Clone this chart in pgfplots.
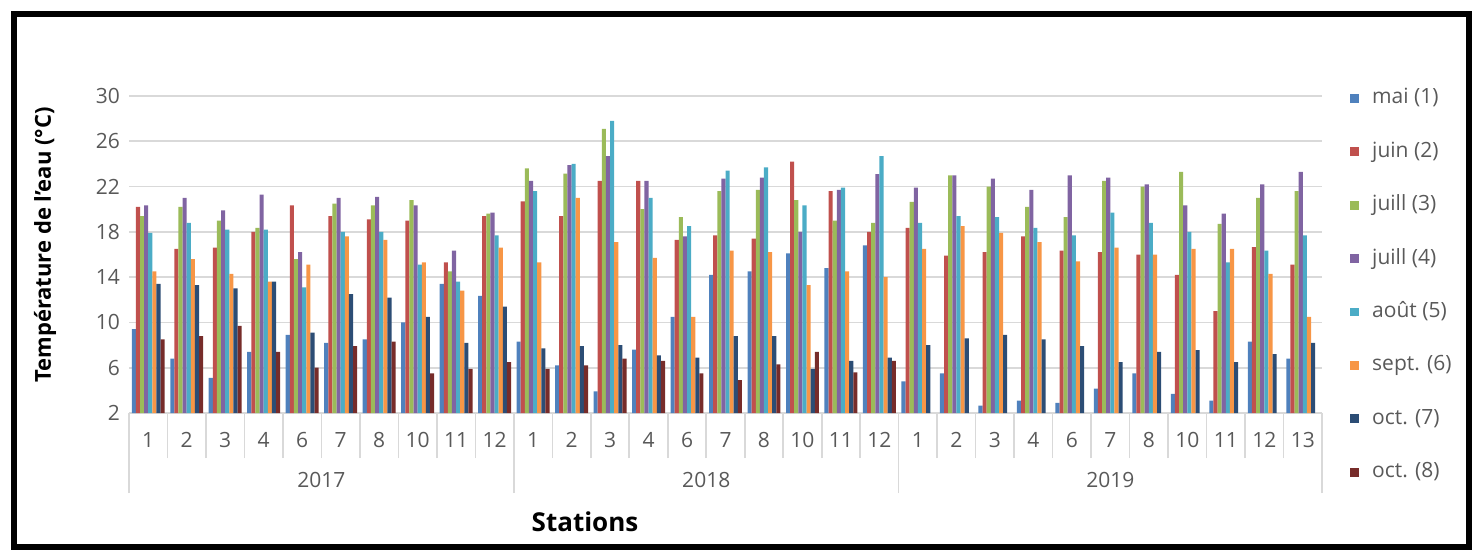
\documentclass[border=0pt]{standalone}
\usepackage{fontspec}
\setmainfont{Open Sans}
\usepackage{pgfplots}
\usepackage{pgfplotstable}
\pgfplotsset{compat=1.18}
\definecolor{c1}{HTML}{4F81BD}
\definecolor{c2}{HTML}{C0504D}
\definecolor{c3}{HTML}{9BBB59}
\definecolor{c4}{HTML}{8064A2}
\definecolor{c5}{HTML}{4BACC6}
\definecolor{c6}{HTML}{F79646}
\definecolor{c7}{HTML}{2C4D75}
\definecolor{c8}{HTML}{772C2A}
\definecolor{gridc}{HTML}{D9D9D9}
\definecolor{tickc}{HTML}{595959}

\pgfplotstableread{
x s1 s2 s3 s4 s5 s6 s7
0 9.4 20.2 19.4 20.35 17.9 14.5 13.4
1 6.8 16.5 20.2 21.0 18.8 15.6 13.3
2 5.1 16.6 19.0 19.9 18.2 14.3 13.0
3 7.4 18.0 18.35 21.3 18.2 13.6 13.6
4 8.9 20.35 15.6 16.2 13.1 15.1 9.1
5 8.2 19.4 20.5 21.0 18.0 17.6 12.5
6 8.5 19.1 20.35 21.1 18.0 17.3 12.2
7 10.0 19.0 20.8 20.35 15.1 15.3 10.5
8 13.4 15.3 14.5 16.35 13.6 12.8 8.2
9 12.35 19.4 19.6 19.7 17.7 16.6 11.4
10 8.3 20.7 23.6 22.5 21.6 15.3 7.7
11 6.2 19.4 23.15 23.9 24.0 21.0 7.9
12 3.9 22.5 27.1 24.7 27.8 17.1 8.0
13 7.6 22.5 20.0 22.5 21.0 15.7 7.1
14 10.5 17.3 19.3 17.6 18.5 10.5 6.9
15 14.2 17.7 21.6 22.7 23.4 16.35 8.8
16 14.5 17.4 21.7 22.8 23.7 16.2 8.8
17 16.1 24.2 20.8 18.0 20.35 13.3 5.9
18 14.8 21.6 19.0 21.7 21.9 14.5 6.6
19 16.8 18.0 18.8 23.1 24.7 14.0 6.9
20 4.8 18.35 20.65 21.9 18.8 16.5 8.0
21 5.5 15.9 23.0 23.0 19.4 18.5 8.6
22 2.65 16.2 22.0 22.7 19.3 17.9 8.9
23 3.1 17.6 20.2 21.7 18.35 17.1 8.5
24 2.9 16.35 19.3 23.0 17.7 15.4 7.9
25 4.15 16.2 22.5 22.8 19.7 16.6 6.5
26 5.5 16.0 22.0 22.2 18.8 16.0 7.4
27 3.7 14.2 23.3 20.35 18.0 16.5 7.55
28 3.1 11.0 18.7 19.6 15.3 16.5 6.5
29 8.3 16.65 21.0 22.2 16.35 14.3 7.2
30 6.8 15.1 21.6 23.3 17.7 10.5 8.2
}\dataA

\pgfplotstableread{
x s8
0 8.5
1 8.8
2 9.7
3 7.4
4 6.0
5 7.9
6 8.3
7 5.5
8 5.9
9 6.5
10 5.9
11 6.2
12 6.8
13 6.6
14 5.5
15 4.9
16 6.3
17 7.4
18 5.6
19 6.6
}\dataB

\pgfplotsset{
  bstyle/.style 2 args={fill=#1, draw=none, bar shift=#2,
    legend image code/.code={\fill[fill=#1] (0pt,-2.2pt) rectangle (4.4pt,2.2pt);}},
}

\begin{document}
\begin{tikzpicture}[x=1pt,y=1pt]
\useasboundingbox (0,0) rectangle (738.5,277);
\draw[line width=3pt] (7,3.5) rectangle (734.5,270);
\begin{axis}[
  at={(64.5pt,70.5pt)}, anchor=south west,
  scale only axis, width=596.5pt, height=158.5pt,
  xmin=-0.5, xmax=30.5, ymin=2, ymax=30,
  ybar=0pt, bar width=0.107,
  axis lines=left,
  axis line style={-},
  y axis line style={draw=none},
  x axis line style={draw=gridc, line width=0.8pt},
  ytick={2,6,...,30},
  xtick={0,...,30},
  xticklabels={1,2,3,4,6,7,8,10,11,12,1,2,3,4,6,7,8,10,11,12,1,2,3,4,6,7,8,10,11,12,13},
  minor xtick={0.5,1.5,...,29.5},
  minor tick length=22.5pt,
  major tick length=0pt,
  tick align=outside,
  minor tick style={draw=gridc, line width=0.8pt},
  extra x ticks={-0.5,9.5,19.5,30.5},
  extra x tick labels={},
  extra x tick style={major tick length=40pt, tick style={draw=gridc, line width=0.8pt}},
  ymajorgrids,
  grid style={draw=gridc, line width=0.8pt},
  /pgf/number format/assume math mode=true,
  tick label style={font=\fontsize{10.5}{12}\selectfont, text=tickc},
  xticklabel style={yshift=-6pt},
  yticklabel style={xshift=-1pt},
  clip=false,
  legend style={at={(1,1)}, anchor=north west, xshift=14pt, yshift=4.25pt,
    draw=none, fill=none, inner sep=0pt, row sep=16.2pt, column sep=6.5pt,
    font=\fontsize{10.5}{12}\selectfont, text=tickc,
    nodes={text height=8pt, text depth=2.5pt, inner sep=0pt}},
  legend cell align=left,
]
\addplot[bstyle={c1}{-0.3745}] table[x=x,y=s1] {\dataA};
\addplot[bstyle={c2}{-0.2675}] table[x=x,y=s2] {\dataA};
\addplot[bstyle={c3}{-0.1605}] table[x=x,y=s3] {\dataA};
\addplot[bstyle={c4}{-0.0535}] table[x=x,y=s4] {\dataA};
\addplot[bstyle={c5}{0.0535}] table[x=x,y=s5] {\dataA};
\addplot[bstyle={c6}{0.1605}] table[x=x,y=s6] {\dataA};
\addplot[bstyle={c7}{0.2675}] table[x=x,y=s7] {\dataA};
\addplot[bstyle={c8}{0.3745}] table[x=x,y=s8] {\dataB};
\legend{mai (1),juin (2),juill (3),juill (4),août (5),sept. (6),oct. (7),oct. (8)}
\node[font=\fontsize{10.5}{12}\selectfont, text=tickc] at (axis cs:4.5,2) [yshift=-33.5pt] {2017};
\node[font=\fontsize{10.5}{12}\selectfont, text=tickc] at (axis cs:14.5,2) [yshift=-33.5pt] {2018};
\node[font=\fontsize{10.5}{12}\selectfont, text=tickc] at (axis cs:25,2) [yshift=-33.5pt] {2019};
\end{axis}
\node[rotate=90, font=\bfseries\fontsize{11}{13}\selectfont] at (22.5,154.5) {Température de l'eau (°C)};
\node[font=\bfseries\fontsize{13}{15}\selectfont] at (292.5,16) {Stations};
\end{tikzpicture}
\end{document}
